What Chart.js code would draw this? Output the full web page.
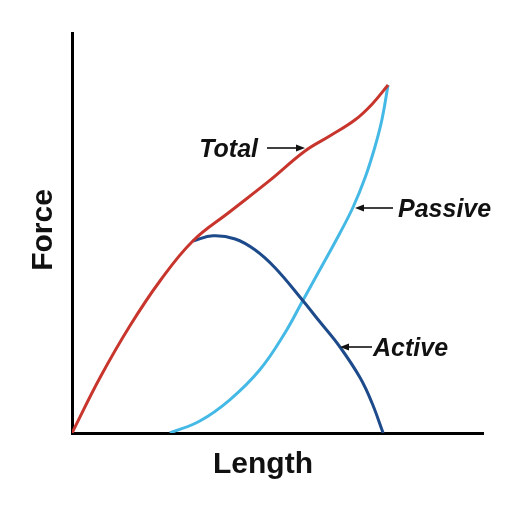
<!DOCTYPE html>
<html>
<head>
<meta charset="utf-8">
<script src="https://cdn.jsdelivr.net/npm/chart.js@4"></script>
<style>
html,body{margin:0;padding:0;background:#fff;}
canvas{display:block;}
</style>
</head>
<body>
<canvas id="c" width="518" height="506"></canvas>
<script>
// Data (Length and Force in arbitrary units, 0-100)
const totalLength   = [0, 6.8, 14.1, 21.4, 29.4, 38.4, 48.2, 56.7, 62.8, 68.9, 73.0, 76.9];
const totalForce    = [0, 13.8, 26.8, 38, 48, 55.3, 63.2, 70.5, 74.3, 78.3, 82.2, 87];
const activeLength  = [29.4, 34.3, 39.7, 44.5, 49.4, 56.0, 60.3, 65.2, 70.1, 73.0, 75.7];
const activeForce   = [48, 49.3, 48.5, 45.8, 41.3, 33.3, 27.8, 21.5, 13.8, 7.5, 0];
const passiveLength = [23.8, 31.1, 38.4, 45.7, 51.8, 56.0, 60.3, 65.2, 68.4, 71.3, 73.7, 75.4, 76.9];
const passiveForce  = [0, 3, 8.3, 15.8, 25, 32.8, 40.8, 50, 56.5, 63.8, 71.5, 78.3, 87];
const seriesNames   = ["Total", "Active", "Passive"];
const axisTitles    = ["Length", "Force"];

const pts = (xs, ys) => xs.map((x, i) => ({x: x, y: ys[i]}));

const annotPlugin = {
  id: 'annot',
  afterDraw(chart) {
    const ctx = chart.ctx;
    ctx.save();
    ctx.fillStyle = '#111';
    ctx.strokeStyle = '#111';
    // Axis titles
    ctx.font = 'bold 30px "Liberation Sans", Arial, sans-serif';
    ctx.textAlign = 'center';
    ctx.textBaseline = 'alphabetic';
    ctx.fillText(axisTitles[0], 263, 473);
    ctx.save();
    ctx.translate(52, 230);
    ctx.rotate(-Math.PI / 2);
    ctx.fillText(axisTitles[1], 0, 0);
    ctx.restore();

    // Annotations
    ctx.font = 'italic bold 25px "Liberation Sans", Arial, sans-serif';
    function arrow(x1, x2, y) { // from x1 to x2 (head at x2)
      ctx.lineWidth = 1.6;
      const dir = Math.sign(x2 - x1);
      ctx.beginPath();
      ctx.moveTo(x1, y);
      ctx.lineTo(x2 - dir * 6, y);
      ctx.stroke();
      ctx.beginPath();
      ctx.moveTo(x2, y);
      ctx.lineTo(x2 - dir * 9, y - 3.5);
      ctx.lineTo(x2 - dir * 9, y + 3.5);
      ctx.closePath();
      ctx.fill();
    }
    ctx.textAlign = 'right';
    ctx.fillText(seriesNames[0], 258, 157);
    arrow(267, 305, 148);
    ctx.textAlign = 'left';
    ctx.fillText(seriesNames[2], 398, 217);
    arrow(393, 355, 208);
    ctx.fillText(seriesNames[1], 373, 356);
    arrow(372, 340, 347);
    ctx.restore();
  }
};

new Chart(document.getElementById('c'), {
  type: 'scatter',
  data: {
    datasets: [
      {label: seriesNames[0], data: pts(totalLength, totalForce), showLine: true,
       borderColor: '#c8352c', borderWidth: 3, pointRadius: 0, tension: 0.4},
      {label: seriesNames[1], data: pts(activeLength, activeForce), showLine: true,
       borderColor: '#1d4a8a', borderWidth: 3, pointRadius: 0, tension: 0.4},
      {label: seriesNames[2], data: pts(passiveLength, passiveForce), showLine: true,
       borderColor: '#45b9e6', borderWidth: 3, pointRadius: 0, tension: 0.4}
    ]
  },
  options: {
    responsive: false,
    animation: false,
    layout: {padding: {left: 72, top: 33, right: 35, bottom: 73}},
    plugins: {legend: {display: false}, tooltip: {enabled: false}},
    scales: {
      x: {type: 'linear', min: 0, max: 100,
          grid: {display: false, drawTicks: false, tickLength: 0}, ticks: {display: false, padding: 0},
          border: {display: true, color: '#000', width: 3}},
      y: {type: 'linear', min: 0, max: 100,
          grid: {display: false, drawTicks: false, tickLength: 0}, ticks: {display: false, padding: 0},
          border: {display: true, color: '#000', width: 3}}
    }
  },
  plugins: [annotPlugin]
});
</script>
</body>
</html>
